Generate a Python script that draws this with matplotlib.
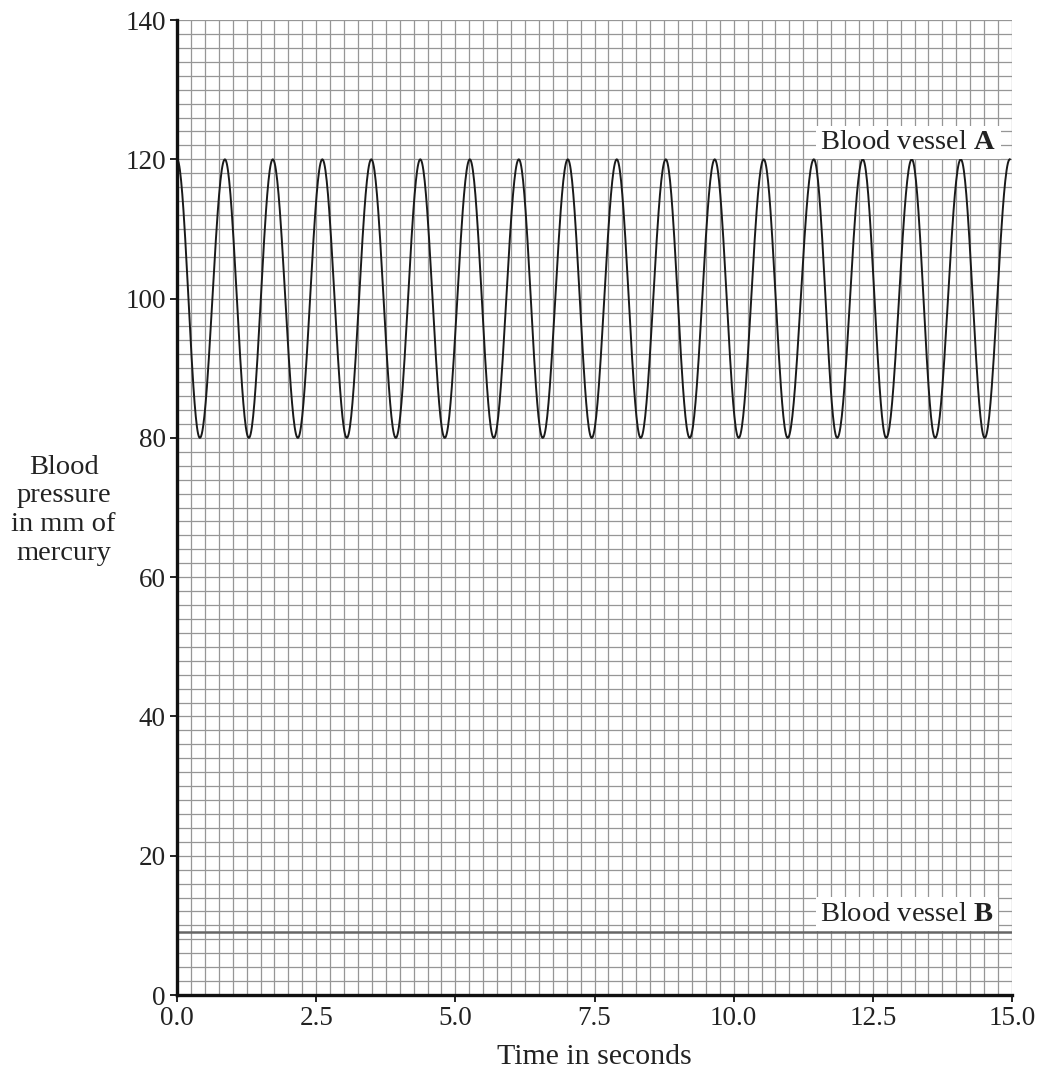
import numpy as np
import matplotlib
matplotlib.use("Agg")
import matplotlib.pyplot as plt

plt.rcParams['font.family'] = ['Liberation Serif', 'DejaVu Serif']
plt.rcParams['mathtext.fontset'] = 'custom'
plt.rcParams['mathtext.rm'] = 'Liberation Serif'
plt.rcParams['mathtext.bf'] = 'Liberation Serif:bold'

# peaks (120) and troughs (80) of blood vessel A
peak_times = [0.0, 0.86, 1.72, 2.61, 3.49, 4.37, 5.26, 6.14, 7.02, 7.90,
              8.78, 9.66, 10.54, 11.44, 12.32, 13.20, 14.08, 14.96]
trough_times = [0.41, 1.29, 2.17, 3.05, 3.93, 4.81, 5.69, 6.57, 7.45, 8.33,
                9.21, 10.09, 10.97, 11.86, 12.74, 13.62, 14.51]
peak_value = 120
trough_value = 80

# blood vessel B: flat
b_times = [0.0, 15.0]
b_values = [9, 9]

x_ticks = [0.0, 2.5, 5.0, 7.5, 10.0, 12.5, 15.0]
y_ticks = [0, 20, 40, 60, 80, 100, 120, 140]

# build the A trace: alternate extrema joined by half-cosine segments
ext_t = []
ext_v = []
for i in range(len(trough_times)):
    ext_t += [peak_times[i], trough_times[i]]
    ext_v += [peak_value, trough_value]
ext_t.append(peak_times[-1])
ext_v.append(peak_value)

ta, va = [], []
for i in range(len(ext_t) - 1):
    s = np.linspace(0, 1, 40)
    ta.append(ext_t[i] + (ext_t[i + 1] - ext_t[i]) * s)
    va.append(ext_v[i] + (ext_v[i + 1] - ext_v[i]) * (1 - np.cos(np.pi * s)) / 2)
ta = np.concatenate(ta)
va = np.concatenate(va)

fig = plt.figure(figsize=(10.42, 10.72), dpi=100)
ax = fig.add_axes([0.1699, 0.0718, 0.8013, 0.9095])

ax.set_xlim(0, 15)
ax.set_ylim(0, 140)
ax.set_xticks(x_ticks)
ax.set_xticklabels(['%.1f' % v for v in x_ticks])
ax.set_yticks(y_ticks)
ax.set_xticks(np.arange(0, 15.001, 0.25), minor=True)
ax.set_yticks(np.arange(0, 140.001, 2), minor=True)
ax.grid(True, which='both', color='#969696', linewidth=0.9)
ax.set_axisbelow(True)

ax.tick_params(which='major', length=5, width=1.4, direction='out', labelsize=19.5, pad=3, colors='#222222')
ax.tick_params(which='minor', length=0)
for side in ['top', 'right']:
    ax.spines[side].set_visible(False)
for side in ['left', 'bottom']:
    ax.spines[side].set_linewidth(2.4)
    ax.spines[side].set_color('#111111')
    ax.spines[side].set_zorder(5)

ax.plot(ta, va, color='#1a1a1a', linewidth=1.4, zorder=3)
ax.plot(b_times, b_values, color='#666666', linewidth=1.8, zorder=3)

box = dict(facecolor='white', edgecolor='none', pad=3)
ax.text(14.72, 122.4, r'Blood vessel $\mathbf{A}$', fontsize=20.5, ha='right', va='center',
        color='#222222', bbox=box, zorder=4)
ax.text(14.68, 11.6, r'Blood vessel $\mathbf{B}$', fontsize=20.5, ha='right', va='center',
        color='#222222', bbox=box, zorder=4)

ax.set_xlabel('Time in seconds', fontsize=21.5, color='#222222', labelpad=9)
fig.text(0.061, 0.524, 'Blood\npressure\nin mm of\nmercury', fontsize=20.5, ha='center', va='center',
         linespacing=1.2, color='#222222')

fig.savefig('out.png', dpi=100, facecolor='white')
